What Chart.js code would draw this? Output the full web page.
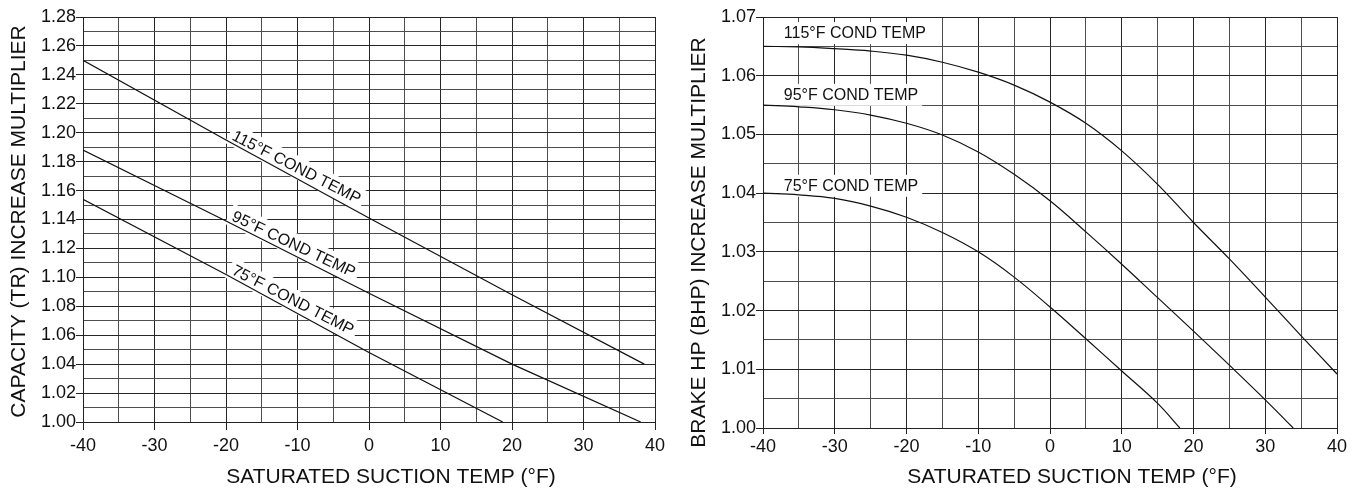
<!DOCTYPE html>
<html>
<head>
<meta charset="utf-8">
<script src="https://cdn.jsdelivr.net/npm/chart.js@4.4.1/dist/chart.umd.min.js"></script>
<style>
  html, body { margin: 0; padding: 0; background: #fff; }
  #wrap { position: relative; width: 1358px; height: 490px; }
  .panel { position: absolute; top: 0; height: 490px; }
  #panelCap { left: 0; width: 680px; }
  #panelBhp { left: 680px; width: 678px; }
</style>
</head>
<body>
<div id="wrap">
  <div class="panel" id="panelCap"><canvas id="grafCap"></canvas></div>
  <div class="panel" id="panelBhp"><canvas id="grafBhp"></canvas></div>
</div>
<script>
// Capacidad (TR): lineas casi rectas
const capX115 = [-40, -20, 0, 20, 38.5];
const capY115 = [1.250, 1.195, 1.141, 1.088, 1.040];
const capX95 = [-40, -20, 0, 20, 38];
const capY95 = [1.188, 1.139, 1.089, 1.040, 1.000];
const capX75 = [-40, -20, 0, 18.7];
const capY75 = [1.154, 1.102, 1.048, 1.000];

// Brake HP: curvas
const bhpX115 = [-40, -35, -30, -25, -20, -15, -10, -5, 0, 5, 10, 15, 20, 25, 30, 35, 40];
const bhpY115 = [1.0650, 1.0649, 1.0646, 1.0642, 1.0635, 1.0623, 1.0606, 1.0584, 1.0555, 1.0519, 1.0472, 1.0415, 1.0350, 1.0288, 1.0223, 1.0157, 1.0092];
const bhpX95 = [-40, -35, -30, -25, -20, -15, -10, -5, 0, 5, 10, 15, 20, 25, 30, 33.9];
const bhpY95 = [1.0550, 1.0547, 1.0542, 1.0533, 1.0519, 1.0499, 1.0470, 1.0432, 1.0387, 1.0334, 1.0279, 1.0222, 1.0165, 1.0107, 1.0048, 1.0000];
const bhpX75 = [-40, -35, -30, -25, -20, -15, -10, -5, 0, 5, 10, 15, 18.1];
const bhpY75 = [1.0400, 1.0397, 1.0391, 1.0378, 1.0359, 1.0333, 1.0300, 1.0257, 1.0206, 1.0152, 1.0097, 1.0042, 1.0000];

const condLabels = ['115°F COND TEMP', '95°F COND TEMP', '75°F COND TEMP'];
const capLabelStart = [-19.5, -19.5, -19.5];               // temp donde empieza cada etiqueta inclinada
const bhpLabelPos = [[-37.1, 1.0664], [-37.1, 1.0559], [-37.1, 1.0404]]; // [temp, multiplicador] de la linea base

const xTitle = 'SATURATED SUCTION TEMP (°F)';
const capTitle = 'CAPACITY (TR) INCREASE MULTIPLIER';
const bhpTitle = 'BRAKE HP (BHP) INCREASE MULTIPLIER';

const FUENTE = '"Liberation Sans", Arial, Helvetica, sans-serif';
const pts = (xs, ys) => xs.map((x, i) => ({ x: x, y: ys[i] }));

// Etiquetas de las curvas con fondo blanco
const etiquetasPlugin = {
    id: 'etiquetas',
    beforeDatasetsDraw(chart, args, opts) {
        const { ctx, scales: { x, y } } = chart;
        (opts.items || []).forEach(it => {
            let px, py, ang = 0, gap = 0;
            if (it.along !== undefined) {
                const data = chart.data.datasets[it.dataset].data;
                let i = 0;
                while (i < data.length - 2 && data[i + 1].x < it.along) i++;
                const a = data[i], b = data[i + 1];
                const t = (it.along - a.x) / (b.x - a.x);
                px = x.getPixelForValue(it.along);
                py = y.getPixelForValue(a.y + t * (b.y - a.y));
                ang = Math.atan2(y.getPixelForValue(b.y) - y.getPixelForValue(a.y),
                                 x.getPixelForValue(b.x) - x.getPixelForValue(a.x)) - opts.tilt * Math.PI / 180;
                gap = opts.gap;
            } else {
                px = x.getPixelForValue(it.x);
                py = y.getPixelForValue(it.y);
            }
            ctx.save();
            ctx.font = opts.font;
            ctx.translate(px, py);
            ctx.rotate(ang);
            const w = ctx.measureText(it.text).width;
            ctx.fillStyle = '#fff';
            ctx.fillRect(-4, -gap - 16, w + 8, 22);
            ctx.fillStyle = '#111';
            ctx.textBaseline = 'alphabetic';
            ctx.fillText(it.text, 0, -gap);
            ctx.restore();
        });
    }
};

// Titulos de ejes
const titulosPlugin = {
    id: 'titulos',
    afterDraw(chart, args, opts) {
        const { ctx, chartArea: ca } = chart;
        ctx.save();
        ctx.font = '21px ' + FUENTE;
        ctx.fillStyle = '#111';
        ctx.textAlign = 'center';
        ctx.textBaseline = 'alphabetic';
        ctx.fillText(opts.x, (ca.left + ca.right) / 2 + opts.dx, 483);
        ctx.translate(25, (ca.top + ca.bottom) / 2 + opts.dy);
        ctx.rotate(-Math.PI / 2);
        ctx.fillText(opts.y, 0, 0);
        ctx.restore();
    }
};

function serie(data, curva) {
    return {
        data: data,
        borderColor: '#111',
        borderWidth: 1.2,
        pointRadius: 0,
        fill: false,
        tension: curva ? 0.4 : 0
    };
}

function ejeX(alto, tickLen, pad) {
    return {
        type: 'linear', min: -40, max: 40,
        afterFit: s => { s.height = alto; },
        border: { color: '#222', width: 1 },
        grid: {
            color: c => (c.tick && c.tick.value % 10 === 0) ? '#262626' : '#4d4d4d',
            lineWidth: 1,
            tickLength: tickLen,
            tickColor: c => (c.tick && c.tick.value % 10 === 0) ? '#222' : 'rgba(0,0,0,0)'
        },
        ticks: {
            stepSize: 5, autoSkip: false, maxRotation: 0, padding: pad,
            color: '#111', font: { family: FUENTE, size: 18 },
            callback: v => (v % 10 === 0 ? String(v) : '')
        }
    };
}

function ejeY(min, max, paso, esMayor) {
    return {
        type: 'linear', min: min, max: max,
        afterFit: s => { s.width = 83; },
        border: { color: '#222', width: 1 },
        grid: {
            color: c => (c.tick && esMayor(c.tick.value)) ? '#262626' : '#4d4d4d',
            lineWidth: 1,
            tickLength: 7,
            tickColor: c => (c.tick && esMayor(c.tick.value)) ? '#222' : 'rgba(0,0,0,0)'
        },
        ticks: {
            stepSize: paso, autoSkip: false, padding: 0,
            color: '#111', font: { family: FUENTE, size: 18 },
            callback: v => (esMayor(v) ? v.toFixed(2) : '')
        }
    };
}

try {
    new Chart(document.getElementById('grafCap').getContext('2d'), {
        type: 'line',
        data: {
            datasets: [
                serie(pts(capX115, capY115), false),
                serie(pts(capX95, capY95), false),
                serie(pts(capX75, capY75), false)
            ]
        },
        options: {
            responsive: true, maintainAspectRatio: false, animation: false,
            layout: { padding: { top: 17, right: 25, bottom: 0, left: 0 } },
            plugins: {
                legend: { display: false }, tooltip: { enabled: false },
                etiquetas: {
                    font: '16px ' + FUENTE, tilt: 1.5, gap: 3,
                    items: condLabels.map((t, i) => ({ text: t, dataset: i, along: capLabelStart[i] }))
                },
                titulos: { x: xTitle, y: capTitle, dx: 22, dy: 2 }
            },
            scales: {
                x: ejeX(68, 8, 5),
                y: ejeY(1.00, 1.28, 0.01, v => Math.round(v * 100) % 2 === 0)
            }
        },
        plugins: [etiquetasPlugin, titulosPlugin]
    });

    new Chart(document.getElementById('grafBhp').getContext('2d'), {
        type: 'line',
        data: {
            datasets: [
                serie(pts(bhpX115, bhpY115), true),
                serie(pts(bhpX95, bhpY95), true),
                serie(pts(bhpX75, bhpY75), true)
            ]
        },
        options: {
            responsive: true, maintainAspectRatio: false, animation: false,
            layout: { padding: { top: 17, right: 21, bottom: 0, left: 0 } },
            plugins: {
                legend: { display: false }, tooltip: { enabled: false },
                etiquetas: {
                    font: '16px ' + FUENTE, tilt: 0, gap: 0,
                    items: condLabels.map((t, i) => ({ text: t, x: bhpLabelPos[i][0], y: bhpLabelPos[i][1] }))
                },
                titulos: { x: xTitle, y: bhpTitle, dx: 22, dy: 20 }
            },
            scales: {
                x: ejeX(62, 6, 2),
                y: ejeY(1.00, 1.07, 0.005, v => Math.round(v * 1000) % 10 === 0)
            }
        },
        plugins: [etiquetasPlugin, titulosPlugin]
    });
} catch (error) {
    console.error('Error al procesar las gráficas:', error);
}
</script>
</body>
</html>
